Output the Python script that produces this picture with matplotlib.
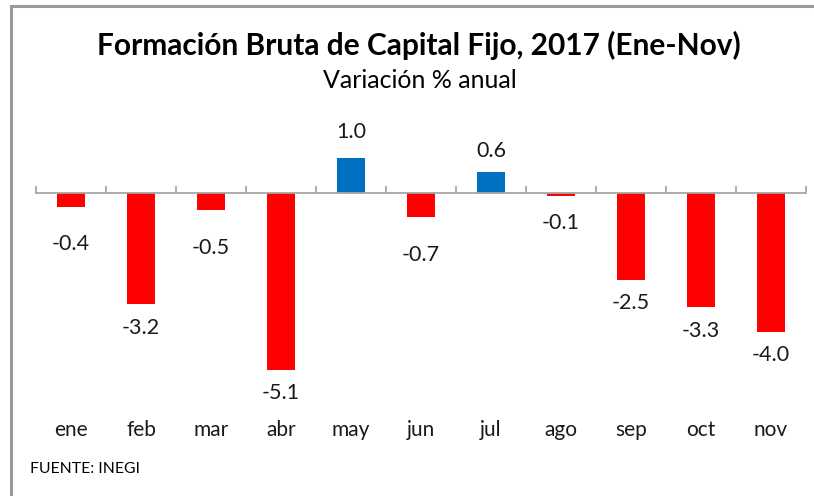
import matplotlib
matplotlib.use("Agg")
import matplotlib.pyplot as plt
from matplotlib.lines import Line2D

plt.rcParams['font.family'] = ['Lato', 'DejaVu Sans']

# datos
meses = ['ene', 'feb', 'mar', 'abr', 'may', 'jun', 'jul', 'ago', 'sep', 'oct', 'nov']
variacion = [-0.4, -3.2, -0.5, -5.1, 1.0, -0.7, 0.6, -0.1, -2.5, -3.3, -4.0]
# desplazamiento de etiquetas (puntos) como en el original
desp_etiqueta = [27, 17, 27, 17, 19, 27, 15, 19, 17, 17, 17]

fig = plt.figure(figsize=(8.14, 4.96), dpi=100)
fig.patch.set_facecolor('white')

# marco gris del recuadro
fig.add_artist(Line2D([11/814, 11/814], [0, 1 - 6/496], transform=fig.transFigure, color='#9a9a9a', lw=2.2))
fig.add_artist(Line2D([11/814, 1], [1 - 6/496, 1 - 6/496], transform=fig.transFigure, color='#9a9a9a', lw=2.2))

ax = fig.add_axes([36/814, (496-401)/496, 770/814, 260/496])
x = range(len(meses))
colores = ['#0070C0' if v > 0 else '#FF0000' for v in variacion]
ax.bar(x, variacion, width=0.41, color=colores, zorder=2)
ax.set_xlim(-0.5, len(meses) - 0.5)
ax.set_ylim(-6, 1.5)

# eje en cero con marcas entre categorias
ax.axhline(0, color='#a6a6a6', lw=1.3, zorder=3)
for b in [i - 0.5 for i in range(len(meses) + 1)]:
    ax.plot([b, b], [0, 0.17], color='#a6a6a6', lw=1.3, zorder=3, clip_on=False)

for i, v in enumerate(variacion):
    off = desp_etiqueta[i] if v > 0 else -desp_etiqueta[i]
    ax.annotate(f'{v:.1f}', (i, v), xytext=(0, off), textcoords='offset points',
                ha='center', va='center', fontsize=15.5, color='#1a1a1a')

for s in ax.spines.values():
    s.set_visible(False)
ax.set_yticks([])
ax.set_xticks([])
for i, m in enumerate(meses):
    ax.text(i, -6.85, m, ha='center', va='center', fontsize=15, color='#1a1a1a')

fig.text(419/814, 1 - 45/496, 'Formación Bruta de Capital Fijo, 2017 (Ene-Nov)',
         ha='center', va='center', fontsize=21.5, fontweight='bold', color='black')
fig.text(420/814, 1 - 80/496, 'Variación % anual', ha='center', va='center',
         fontsize=18, color='black')
fig.text(30/814, 1 - 469/496, 'FUENTE: INEGI', ha='left', va='center',
         fontsize=11.3, color='black')

fig.savefig('out.png', dpi=100)
